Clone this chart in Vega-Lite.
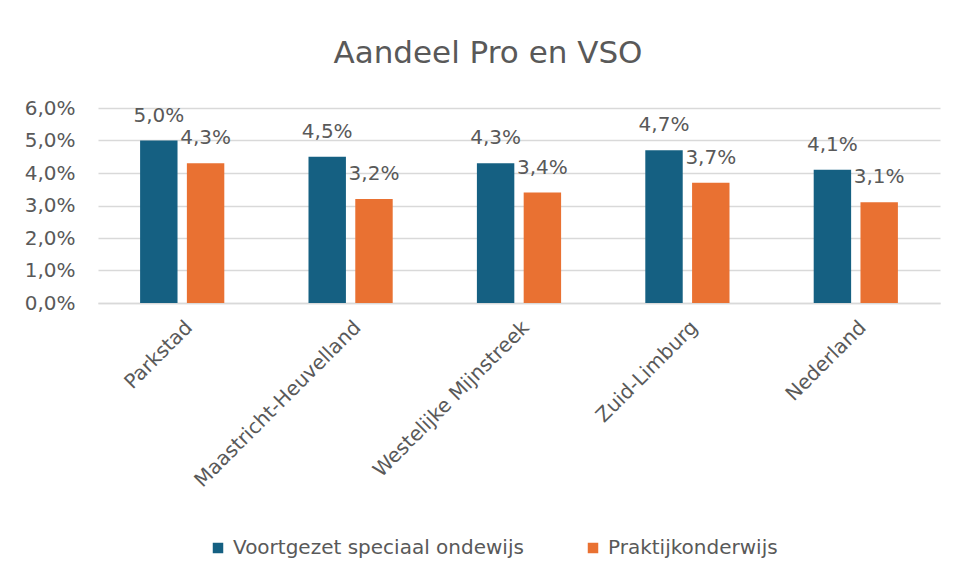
{
  "$schema": "https://vega.github.io/schema/vega-lite/v6.json",
  "autosize": {"type": "none"},
  "width": 842,
  "height": 195,
  "padding": {"left": 98, "top": 108, "right": 18, "bottom": 285},
  "background": "white",
  "config": {
    "locale": {"number": {"decimal": ",", "thousands": ".", "grouping": [3], "currency": ["€", ""]}},
    "font": "DejaVu Sans",
    "view": {"stroke": null}
  },
  "title": {
    "text": "Aandeel Pro en VSO",
    "fontSize": 31,
    "fontWeight": "normal",
    "color": "#595959",
    "font": "DejaVu Sans",
    "anchor": "middle",
    "frame": "group",
    "dx": -31,
    "offset": 28
  },
  "data": {
    "values": [
      {"regio": "Parkstad", "reeks": "Voortgezet speciaal ondewijs", "waarde": 0.050},
      {"regio": "Parkstad", "reeks": "Praktijkonderwijs", "waarde": 0.043},
      {"regio": "Maastricht-Heuvelland", "reeks": "Voortgezet speciaal ondewijs", "waarde": 0.045},
      {"regio": "Maastricht-Heuvelland", "reeks": "Praktijkonderwijs", "waarde": 0.032},
      {"regio": "Westelijke Mijnstreek", "reeks": "Voortgezet speciaal ondewijs", "waarde": 0.043},
      {"regio": "Westelijke Mijnstreek", "reeks": "Praktijkonderwijs", "waarde": 0.034},
      {"regio": "Zuid-Limburg", "reeks": "Voortgezet speciaal ondewijs", "waarde": 0.047},
      {"regio": "Zuid-Limburg", "reeks": "Praktijkonderwijs", "waarde": 0.037},
      {"regio": "Nederland", "reeks": "Voortgezet speciaal ondewijs", "waarde": 0.041},
      {"regio": "Nederland", "reeks": "Praktijkonderwijs", "waarde": 0.031}
    ]
  },
  "encoding": {
    "x": {
      "field": "regio",
      "type": "nominal",
      "sort": null,
      "scale": {"paddingInner": 0.5, "paddingOuter": 0.25},
      "axis": {
        "title": null,
        "labelAngle": -45,
        "labelFontSize": 20,
        "labelColor": "#595959",
        "labelPadding": 14,
        "labelLimit": 0,
        "ticks": false,
        "domainColor": "#d9d9d9",
        "domainWidth": 1.5,
        "grid": false
      }
    },
    "xOffset": {
      "field": "reeks",
      "type": "nominal",
      "sort": ["Voortgezet speciaal ondewijs", "Praktijkonderwijs"],
      "scale": {"paddingInner": 0.2}
    },
    "y": {
      "field": "waarde",
      "type": "quantitative",
      "scale": {"domain": [0, 0.06]},
      "axis": {
        "title": null,
        "format": ".1%",
        "values": [0, 0.01, 0.02, 0.03, 0.04, 0.05, 0.06],
        "labelOverlap": false,
        "labelFontSize": 20,
        "labelColor": "#595959",
        "labelPadding": 23,
        "ticks": false,
        "domain": false,
        "gridColor": "#d9d9d9",
        "gridWidth": 1.5
      }
    }
  },
  "layer": [
    {
      "mark": {"type": "bar"},
      "encoding": {
        "color": {
          "field": "reeks",
          "type": "nominal",
          "sort": ["Voortgezet speciaal ondewijs", "Praktijkonderwijs"],
          "scale": {"domain": ["Voortgezet speciaal ondewijs", "Praktijkonderwijs"], "range": ["#156082", "#E97132"]},
          "legend": {
            "title": null,
            "orient": "none",
            "direction": "horizontal",
            "legendX": 110,
            "legendY": 430,
            "symbolType": "square",
            "symbolSize": 110,
            "symbolStrokeWidth": 0,
            "labelFontSize": 20,
            "labelColor": "#595959",
            "labelLimit": 0,
            "columnPadding": 59,
            "labelOffset": 5
          }
        }
      }
    },
    {
      "mark": {"type": "text", "baseline": "alphabetic", "dy": -19, "fontSize": 20, "color": "#595959"},
      "encoding": {
        "text": {"field": "waarde", "type": "quantitative", "format": ".1%"}
      }
    }
  ]
}
